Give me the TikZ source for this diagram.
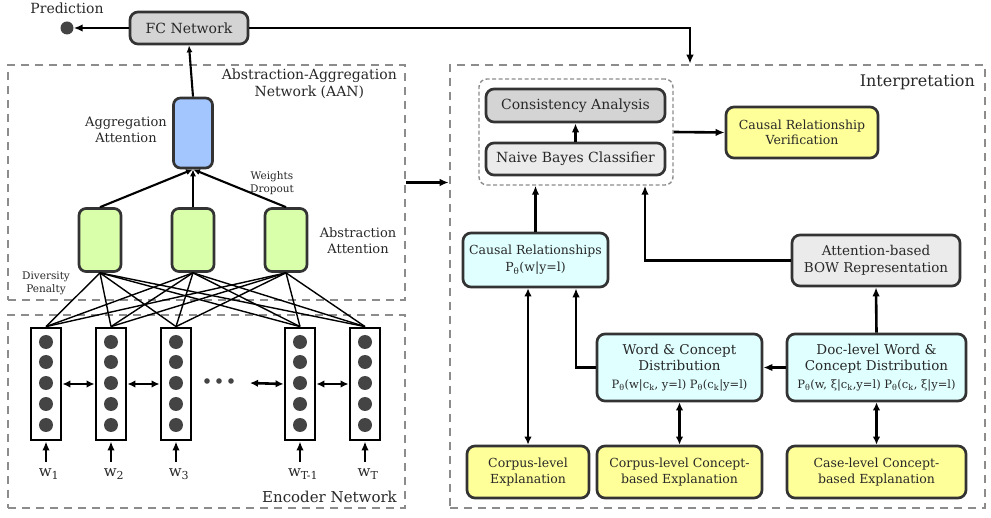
\documentclass[tikz,border=0pt]{standalone}
\usepackage{fontspec}
\setmainfont{DejaVu Serif}
\usetikzlibrary{arrows.meta,calc}
\definecolor{BoxLine} {RGB}{51,51,51}
\definecolor{TxtCol}  {RGB}{40,40,40}
\definecolor{FcFill}  {RGB}{212,212,212}
\definecolor{GryFill} {RGB}{235,235,235}
\definecolor{AggFill} {RGB}{164,198,255}
\definecolor{AbsFill} {RGB}{217,255,170}
\definecolor{CyaFill} {RGB}{224,255,255}
\definecolor{YelFill} {RGB}{255,255,153}
\definecolor{DashLine}{RGB}{140,140,140}
\definecolor{DotFill} {RGB}{68,68,68}
\newcommand{\fsz}[1]{\fontsize{#1}{1.22\dimexpr#1pt\relax}\selectfont}
\tikzset{
  nd_box/.style={rectangle,rounded corners=8pt,draw=BoxLine,line width=2.7pt,align=center,inner sep=1pt,text=TxtCol},
  nd_fc/.style={nd_box,fill=FcFill,minimum width=118pt,minimum height=32pt,font=\fsz{14}},
  nd_agg/.style={nd_box,rounded corners=7pt,fill=AggFill,minimum width=39pt,minimum height=70pt},
  nd_abs/.style={nd_box,rounded corners=7pt,fill=AbsFill,minimum width=42pt,minimum height=63pt},
  nd_enc/.style={rectangle,draw=black,line width=2.8pt,fill=white,minimum width=30pt,minimum height=112pt},
  nd_dot/.style={circle,fill=DotFill,minimum size=14pt,inner sep=0pt},
  nd_gray/.style={nd_box,fill=#1,font=\fsz{14}},
  nd_cya/.style={nd_box,fill=CyaFill,font=\fsz{13.5}},
  nd_yel/.style={nd_box,fill=YelFill,font=\fsz{12.5}},
  nd_area/.style={rectangle,draw=DashLine,line width=2.6pt,dash pattern=on 8pt off 6pt},
  lbl/.style={text=TxtCol,align=center,inner sep=0pt},
  arr/.style={-{Latex[length=9pt,width=7.5pt]},line width=2.6pt},
  arr_s/.style={-{Latex[length=7pt,width=6pt]},line width=2.1pt},
  darr/.style={{Latex[length=8pt,width=7.5pt]}-{Latex[length=8pt,width=7.5pt]},line width=2.6pt},
  fc_ln/.style={line width=1.4pt},
}
\begin{document}
\begin{tikzpicture}[x=1pt,y=-1pt]
\useasboundingbox (0,0) rectangle (991,518);
\def\hA{46}\def\hB{111}\def\hC{176}\def\hD{300}\def\hE{365}
% areas
\node[nd_area,minimum width=397pt,minimum height=235pt] at (206.5,182.5)(AAN){};
\node[nd_area,minimum width=397pt,minimum height=193pt] at (206.5,411.5)(ENC){};
\node[nd_area,minimum width=535pt,minimum height=443pt] at (717.5,286.5)(INT){};
\node[lbl,font=\fsz{14},anchor=north east] at (397,69){Abstraction-Aggregation\\Network (AAN)};
\node[lbl,font=\fsz{15},anchor=east] at (397,497){Encoder Network};
\node[lbl,font=\fsz{16},anchor=east] at (975,82){Interpretation};
% prediction
\node[nd_fc] at (189,28)(FC){FC Network};
\node[circle,fill=DotFill,minimum size=13pt,inner sep=0pt] at (67,28)(PR){};
\node[lbl,font=\fsz{14}] at (67,8){Prediction};
\coordinate (FCturn) at (690,28);
% AAN
\node[nd_agg] at (193,133)(AG){};
\node[nd_abs] at (100,240)(AB1){};
\node[nd_abs] at (193,240)(AB2){};
\node[nd_abs] at (286,240)(AB3){};
\node[lbl,font=\fsz{13}] at (126,130){Aggregation\\Attention};
\node[lbl,font=\fsz{10.5}] at (272,183){Weights\\Dropout};
\node[lbl,font=\fsz{13}] at (358,241){Abstraction\\Attention};
\node[lbl,font=\fsz{10.5}] at (46,283){Diversity\\Penalty};
% encoder
\foreach \x/\n/\w in {\hA/H1/1,\hB/H2/2,\hC/H3/3,\hD/H4/{T-1},\hE/H5/T}{
  \node[nd_enc] at (\x,384)(\n){};
  \foreach \y in {342,362,383,404,425}{\node[nd_dot] at (\x,\y){};}
  \coordinate (\n in) at (\x,462);
  \node[lbl,font=\fsz{15}] at (\x+3,474)(\n w){w\textsubscript{\fsz{11}\w}};
  \draw[arr](\n in)--(\n);
}
\foreach \x in {207,219,231}{\fill[DotFill](\x,381) circle (2.8pt);}
\coordinate (GAP) at (250,383);
% interpretation
\node[nd_area,rounded corners=8pt,line width=1.4pt,dash pattern=on 4pt off 2.5pt,minimum width=194pt,minimum height=106pt] at (576,132)(IN){};
\node[nd_gray=FcFill,minimum width=179pt,minimum height=33pt] at (575.5,105.5)(CA){Consistency Analysis};
\node[nd_gray=GryFill,minimum width=179pt,minimum height=32pt] at (575.5,159)(NB){Naive Bayes Classifier};
\node[nd_yel,minimum width=152pt,minimum height=51pt,font=\fsz{12.5}] at (802,132.5)(CV){Causal Relationship\\Verification};
\node[nd_cya,minimum width=145pt,minimum height=54pt,font=\fsz{12.5}] at (535.5,260)(CR){Causal Relationships\\[2pt]P\textsubscript{θ}(w|y=l)};
\node[nd_gray=GryFill,minimum width=168pt,minimum height=51pt,font=\fsz{13.5}] at (876,260.5)(BW){Attention-based\\BOW Representation};
\node[nd_cya,minimum width=165pt,minimum height=67pt] at (679.5,367.5)(WC){Word \& Concept\\Distribution\\[1pt]{\fsz{11.5}P\textsubscript{θ}(w|c\textsubscript{k}, y=l) P\textsubscript{θ}(c\textsubscript{k}|y=l)}};
\node[nd_cya,minimum width=179pt,minimum height=67pt] at (876.5,367.5)(DC){Doc-level Word \&\\Concept Distribution\\[1pt]{\fsz{11.5}P\textsubscript{θ}(w, ξ|c\textsubscript{k},y=l) P\textsubscript{θ}(c\textsubscript{k}, ξ|y=l)}};
\node[nd_yel,minimum width=122pt,minimum height=52pt] at (528,472)(CE){Corpus-level\\Explanation};
\node[nd_yel,minimum width=165pt,minimum height=52pt] at (679.5,472)(CC){Corpus-level Concept-\\based Explanation};
\node[nd_yel,minimum width=179pt,minimum height=52pt] at (876.5,472)(KC){Case-level Concept-\\based Explanation};
% arrows left
\foreach \a in {AB1,AB2,AB3}{
  \draw[arr_s](\a.north)--(AG.south);
  \foreach \h in {H1,H2,H3,H4,H5}{\draw[fc_ln](\a.south)--(\h.north);}
}
\draw[arr_s](AG.north)--(FC.south);
\draw[arr](FC.west)--(PR);
\draw[arr](FC.east)--(FCturn)--(FCturn|-INT.north);
\draw[darr](H1.east)--(H2.west);\draw[darr](H2.east)--(H3.west);
\draw[darr](GAP)--(H4.west);\draw[darr](H4.east)--(H5.west);
\draw[arr](AAN.east)--(INT.west|-AAN.east);
% arrows right
\draw[arr](NB.north)--(CA.south);
\draw[arr](IN.east)--(CV.west);
\draw[arr](CR.north)--(CR.north|-IN.south);
\draw[arr](BW.west)-|($(IN.south)+(69,0)$);
\draw[arr](DC.west)--(WC.east);
\draw[arr](WC.west)-|($(CR.south)+(40.5,0)$);
\draw[arr](DC.north)--(BW.south);
\draw[darr](CE.north|-CR.south)--(CE.north);
\draw[darr](WC.south)--(CC.north);
\draw[darr](DC.south)--(KC.north);
\end{tikzpicture}
\end{document}
